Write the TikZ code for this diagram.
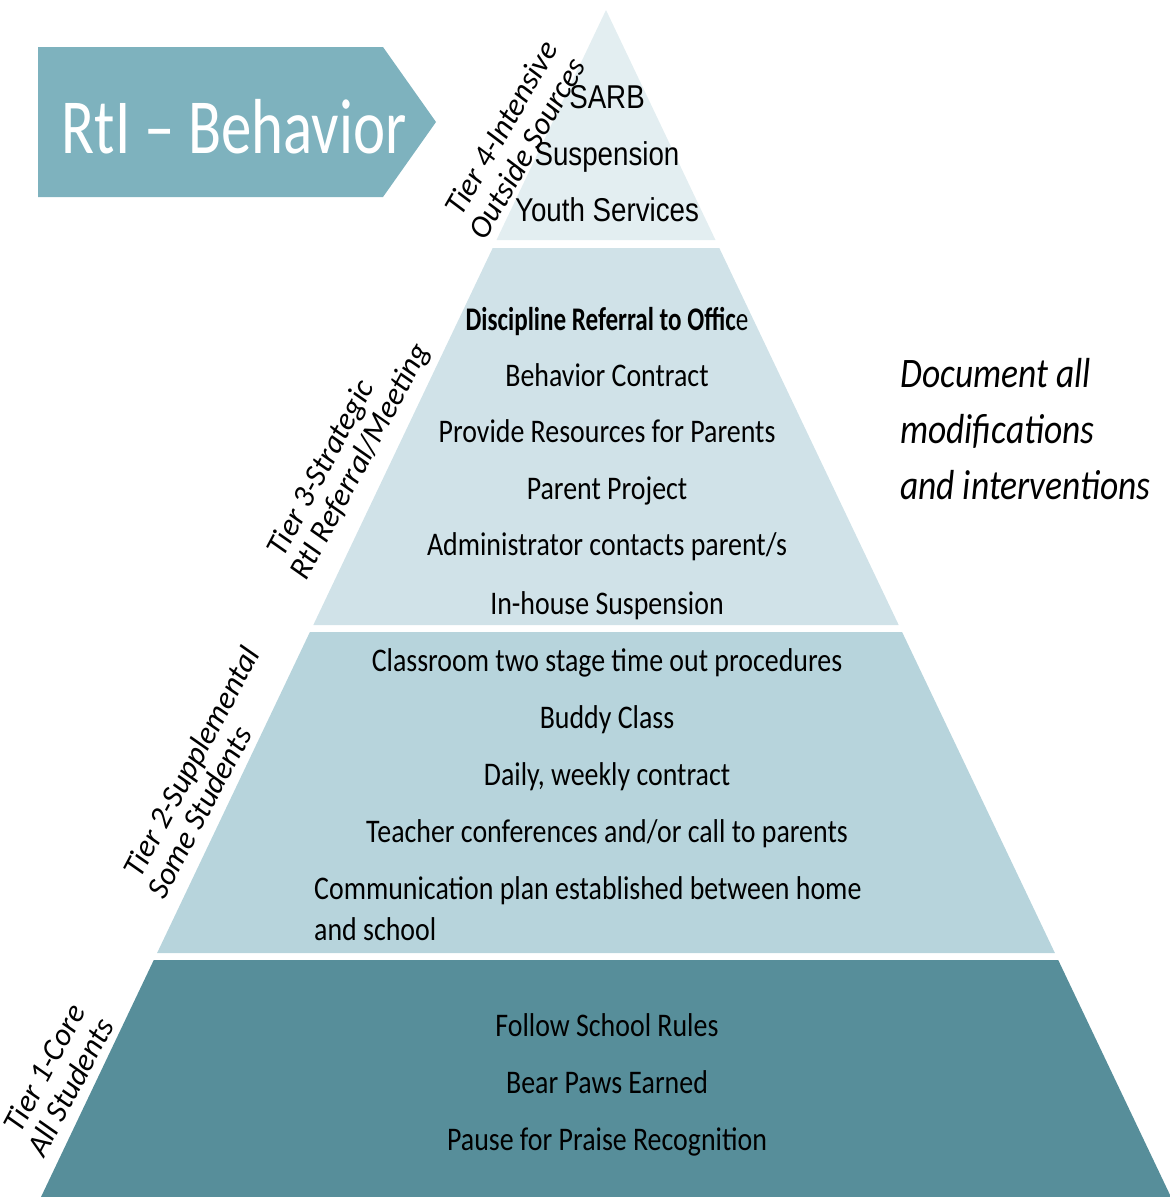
\documentclass[tikz,border=0pt]{standalone}
\usepackage{fontspec}
\setmainfont{Carlito}
\newfontfamily\bodyf{Carlito}[FakeStretch=0.845]
\newfontfamily\titlef{Carlito}[FakeStretch=0.78]
\newfontfamily\arialf{Liberation Sans}[FakeStretch=0.84]
\definecolor{tierfour}{HTML}{E3EEF1}
\definecolor{tierthree}{HTML}{D0E2E8}
\definecolor{tiertwo}{HTML}{B7D4DC}
\definecolor{tierone}{HTML}{578E9A}
\definecolor{banner}{HTML}{7EB2BE}
\tikzset{
  body/.style={anchor=base, inner sep=0pt, font=\bodyf\fontsize{33}{40}\selectfont, text=black},
  top/.style={anchor=base, inner sep=0pt, font=\arialf\fontsize{33}{40}\selectfont, text=black},
  tierlabel/.style={inner sep=0pt, font=\itshape\fontsize{31.5}{36}\selectfont, text=black},
  note/.style={anchor=base west, inner sep=0pt, font=\bodyf\itshape\fontsize{42}{50}\selectfont, text=black}
}
\begin{document}
\begin{tikzpicture}[x=1pt,y=-1pt]
\useasboundingbox (0,0) rectangle (1170,1197);
% pyramid bands
\fill[tierfour] (606,10) -- (715.5,240) -- (496.5,240) -- cycle;
\fill[tierthree] (492.7,248) -- (719.3,248) -- (898.7,625) -- (313.3,625) -- cycle;
\fill[tiertwo] (309.9,632) -- (902.1,632) -- (1054.9,953) -- (157.1,953) -- cycle;
\fill[tierone] (153.8,960) -- (1058.2,960) -- (1171,1197) -- (41,1197) -- cycle;
% banner
\fill[banner] (38,47) -- (383,47) -- (436,122) -- (383,197) -- (38,197) -- cycle;
\node[anchor=base, inner sep=0pt, text=white, font=\titlef\fontsize{78}{90}\selectfont] (title) at (234,153) {RtI – Behavior};
% tier 4
\node[top] (sarb) at (607,108) {SARB};
\node[top] (susp) at (607,165) {Suspension};
\node[top] (youth) at (607,221) {Youth Services};
% tier 3
\node[body] (disc) at (607,330) {\scalebox{0.9}[1]{\textbf{Discipline Referral to Offic}e}};
\node[body] (behc) at (607,386) {Behavior Contract};
\node[body] (prov) at (607,442) {Provide Resources for Parents};
\node[body] (ppro) at (607,499) {Parent Project};
\node[body] (admin) at (607,555) {Administrator contacts parent/s};
\node[body] (inh) at (607,614) {In-house Suspension};
% tier 2
\node[body] (class) at (607,671) {Classroom two stage time out procedures};
\node[body] (buddy) at (607,728) {Buddy Class};
\node[body] (daily) at (607,785) {Daily, weekly contract};
\node[body] (teach) at (607,842) {Teacher conferences and/or call to parents};
\node[body, anchor=base west] (comm) at (314,899) {Communication plan established between home};
\node[body, anchor=base west] (commb) at (314,940) {and school};
% tier 1
\node[body] (follow) at (607,1036) {Follow School Rules};
\node[body] (bear) at (607,1093) {Bear Paws Earned};
\node[body] (pause) at (607,1150) {Pause for Praise Recognition};
% right note
\node[note] (doca) at (900,387) {Document all};
\node[note] (docb) at (900,443) {modifications};
\node[note] (docc) at (900,499) {and interventions};
% tier labels
\node[tierlabel, rotate=60] (l4a) at (501,128) {Tier 4-Intensive};
\node[tierlabel, rotate=60] (l4b) at (527,148) {Outside Sources};
\node[tierlabel, rotate=62] (l3a) at (322,469) {Tier 3-Strategic};
\node[tierlabel, rotate=62] (l3b) at (361,462) {RtI Referral/Meeting};
\node[tierlabel, rotate=62] (l2a) at (193,763) {Tier 2-Supplemental};
\node[tierlabel, rotate=62] (l2b) at (199,812) {Some Students};
\node[tierlabel, rotate=62] (l1a) at (44,1068) {Tier 1-Core};
\node[tierlabel, rotate=62] (l1b) at (70,1087) {All Students};
\end{tikzpicture}
\end{document}
